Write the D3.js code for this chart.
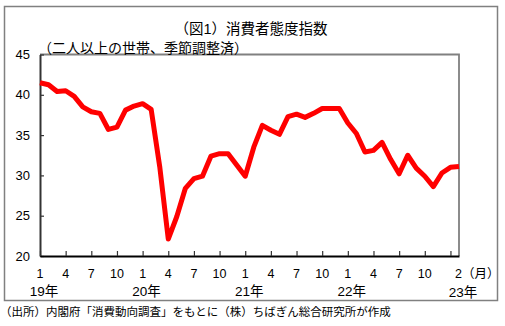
<!DOCTYPE html>
<html><head><meta charset="utf-8">
<script src="https://cdn.jsdelivr.net/npm/d3@7"></script>
<style>
html,body{margin:0;padding:0;background:#fff;}
svg text{font-family:"Liberation Sans","Noto Sans CJK JP",sans-serif;fill:#000;}
</style></head>
<body>
<svg id="chart" width="505" height="326"></svg>
<script>
const title = "（図1）消費者態度指数";
const subtitle = "（二人以上の世帯、季節調整済）";
const source = "（出所）内閣府「消費動向調査」をもとに（株）ちばぎん総合研究所が作成";
const months = ["2019-01","2019-02","2019-03","2019-04","2019-05","2019-06","2019-07","2019-08","2019-09","2019-10","2019-11","2019-12",
"2020-01","2020-02","2020-03","2020-04","2020-05","2020-06","2020-07","2020-08","2020-09","2020-10","2020-11","2020-12",
"2021-01","2021-02","2021-03","2021-04","2021-05","2021-06","2021-07","2021-08","2021-09","2021-10","2021-11","2021-12",
"2022-01","2022-02","2022-03","2022-04","2022-05","2022-06","2022-07","2022-08","2022-09","2022-10","2022-11","2022-12",
"2023-01","2023-02"];
const values = [41.5,41.25,40.4,40.5,39.8,38.5,37.9,37.7,35.7,36.0,38.1,38.6,
38.9,38.2,31.1,22.1,24.9,28.4,29.6,29.9,32.4,32.7,32.7,31.3,
29.9,33.5,36.2,35.6,35.1,37.3,37.6,37.2,37.7,38.3,38.3,38.3,
36.5,35.2,32.9,33.1,34.1,32.0,30.2,32.5,30.9,29.9,28.6,30.3,
31.0,31.1];
const yTicks = [20,25,30,35,40,45];
const xTickIdx = [0,3,6,9,12,15,18,21,24,27,30,33,36,39,42,45,48];
const monthLabelIdx = [0,3,6,9,12,15,18,21,24,27,30,33,36,39,42,45];
const monthLabels = ["1","4","7","10","1","4","7","10","1","4","7","10","1","4","7","10"];
const lastLabel = "2（月）";
const yearIdx = [0,12,24,36,49];
const yearLabels = ["19年","20年","21年","22年","23年"];

const svg = d3.select("#chart");
const L=40, R=459, T=54.5, B=256;
const x = d3.scaleLinear().domain([0, values.length-1]).range([L, R]);
const y = d3.scaleLinear().domain([20,45]).range([B, T]);

// outer frame
svg.append("rect").attr("x",4.5).attr("y",6.5).attr("width",493).attr("height",294)
  .attr("fill","none").attr("stroke","#808080").attr("stroke-width",1.5);

// plot frame top/right grey
svg.append("path").attr("d",`M${L},${T}H${R}V${B}`).attr("fill","none")
  .attr("stroke","#808080").attr("stroke-width",1.8);

// y axis
const yAxis = svg.append("g").attr("transform",`translate(${L},0)`)
  .call(d3.axisLeft(y).tickValues(yTicks).tickSize(-4).tickPadding(10).tickSizeOuter(0));
yAxis.select(".domain").attr("stroke","#333").attr("stroke-width",2);
yAxis.selectAll(".tick line").attr("stroke","#333").attr("stroke-width",1.2);
yAxis.selectAll("text").attr("font-size","13px").attr("font-family",null).attr("fill","#000");

// x axis
const xAxis = svg.append("g").attr("transform",`translate(0,${B})`)
  .call(d3.axisBottom(x).tickValues(xTickIdx).tickSize(-5).tickSizeOuter(0).tickFormat(""));
xAxis.select(".domain").attr("stroke","#000").attr("stroke-width",2);
xAxis.selectAll(".tick line").attr("stroke","#333").attr("stroke-width",1.2);

// month labels
svg.append("g").selectAll("text").data(monthLabelIdx).join("text")
  .attr("x",d=>x(d)).attr("y",278).attr("text-anchor","middle")
  .attr("font-size","12.5px").text((d,i)=>monthLabels[i]);
svg.append("text").attr("x",x(values.length-1)-4).attr("y",278)
  .attr("font-size","12.5px").text(lastLabel);

// year labels
svg.append("g").selectAll("text").data(yearIdx).join("text")
  .attr("x",d=>x(d)+4).attr("y",(d,i)=>i===4?297:296).attr("text-anchor","middle")
  .attr("font-size","13.5px").text((d,i)=>yearLabels[i]);

// line
const line = d3.line().x((d,i)=>x(i)).y(d=>y(d));
svg.append("path").datum(values).attr("d",line).attr("fill","none")
  .attr("stroke","#ff0000").attr("stroke-width",5).attr("stroke-linejoin","round");

// titles
svg.append("text").attr("x",251).attr("y",34).attr("text-anchor","middle")
  .attr("font-size","14.5px").text(title);
svg.append("text").attr("x",38).attr("y",53).attr("font-size","14px").text(subtitle);
svg.append("text").attr("x",0).attr("y",316).attr("font-size","11.5px").text(source);
</script>
</body></html>
